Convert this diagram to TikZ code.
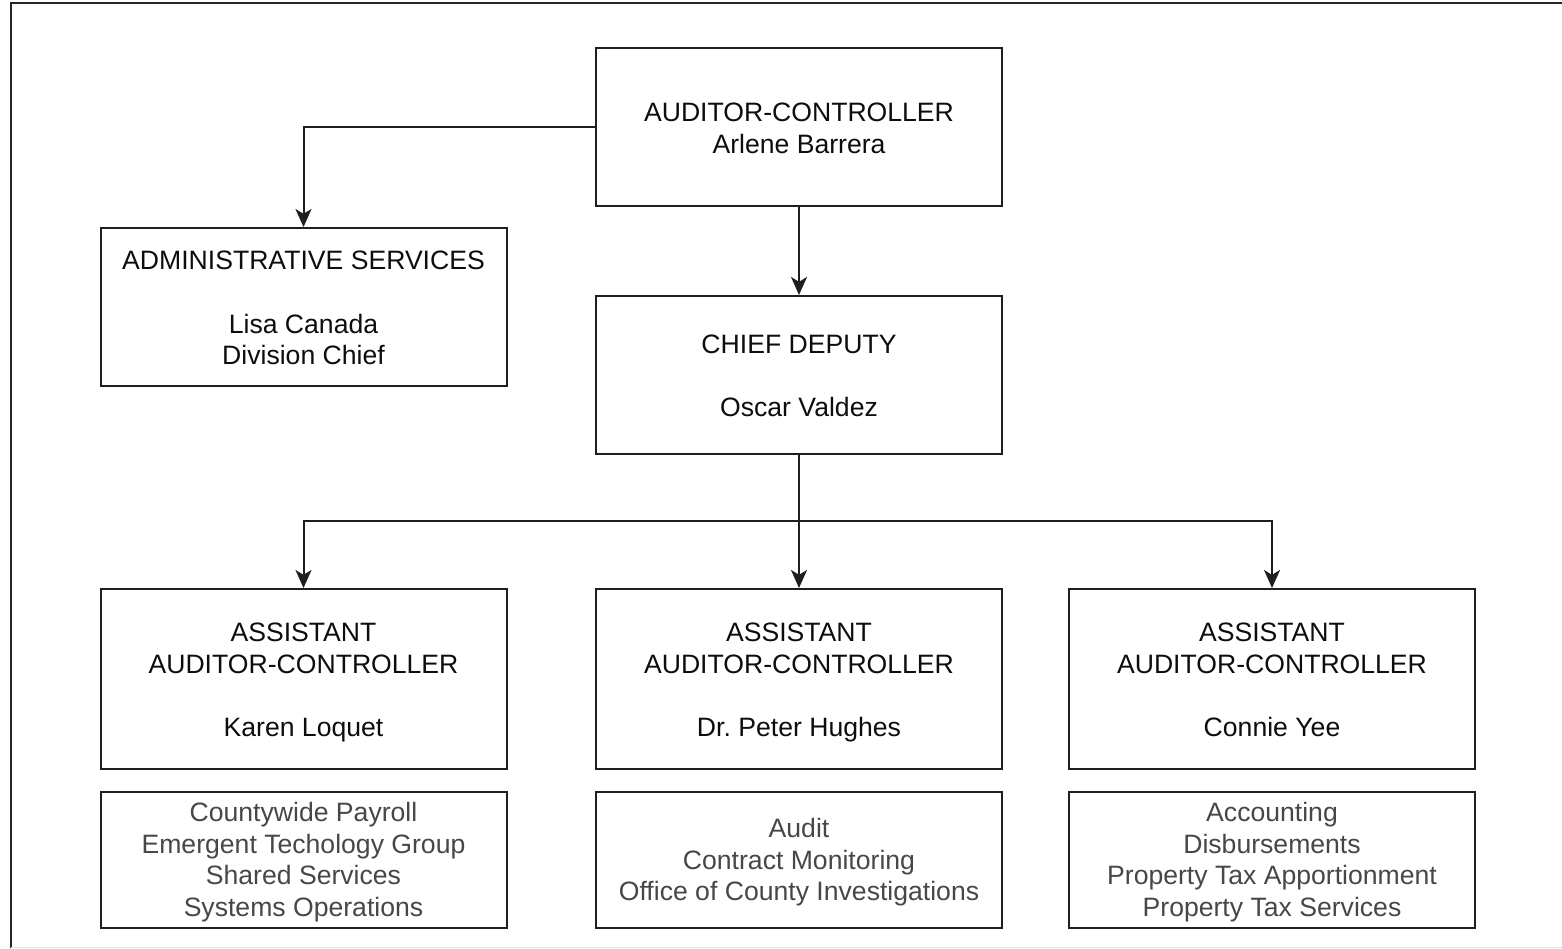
\documentclass[tikz,border=0pt]{standalone}
\usepackage{fontspec}
\setmainfont{Liberation Sans}
\usetikzlibrary{arrows.meta}
\newcommand\mybotstrut{\rule[-3pt]{0pt}{3pt}}
\begin{document}
\begin{tikzpicture}[x=0.5pt,y=-0.5pt,
  box/.style={draw=black!88, line width=1pt, minimum width=203pt, inner sep=0pt},
  tallbox/.style={box, minimum height=79pt},
  asbox/.style={box, minimum height=90pt},
  listbox/.style={box, minimum height=68pt},
  txt/.style={inner sep=0pt, align=center, font=\fontsize{13.3}{15.85}\selectfont,
    text=black!95, execute at end node=\mybotstrut, yshift=-2pt},
  listtxt/.style={txt, text=black!72, yshift=0.8pt},
  arr/.style={draw=black!88, line width=1pt, -{Stealth[length=9pt,width=8pt,inset=2.4pt]}}]
\useasboundingbox (0,0) rectangle (1562,948);
% outer frame
\draw[line width=1pt, black!85] (11,948) -- (11,3) -- (1562,3);
\draw[line width=0.5pt, black!12] (11,947) -- (1562,947);

\node[tallbox] (top) at (799,127) {};
\node[txt] (topt) at (top.center) {AUDITOR-CONTROLLER\\Arlene Barrera};
\node[tallbox] (admin) at (303.5,307) {};
\node[txt] (admint) at (admin.center) {ADMINISTRATIVE SERVICES\\[15.85pt]Lisa Canada\\Division Chief};
\node[tallbox] (chief) at (799,375) {};
\node[txt] (chieft) at (chief.center) {CHIEF DEPUTY\\[15.85pt]Oscar Valdez};

\node[asbox] (a1) at (303.5,679) {};
\node[txt] (a1t) at (a1.center) {ASSISTANT\\AUDITOR-CONTROLLER\\[15.85pt]Karen Loquet};
\node[asbox] (a2) at (799,679) {};
\node[txt] (a2t) at (a2.center) {ASSISTANT\\AUDITOR-CONTROLLER\\[15.85pt]Dr.\ Peter Hughes};
\node[asbox] (a3) at (1272,679) {};
\node[txt] (a3t) at (a3.center) {ASSISTANT\\AUDITOR-CONTROLLER\\[15.85pt]Connie Yee};

\node[listbox] (l1) at (303.5,860) {};
\node[listtxt] (l1t) at (l1.center) {Countywide Payroll\\Emergent Techology Group\\Shared Services\\Systems Operations};
\node[listbox] (l2) at (799,860) {};
\node[listtxt] (l2t) at (l2.center) {Audit\\Contract Monitoring\\Office of County Investigations};
\node[listbox] (l3) at (1272,860) {};
\node[listtxt] (l3t) at (l3.center) {Accounting\\Disbursements\\Property Tax Apportionment\\Property Tax Services};

\coordinate (j) at (799,521);
\draw[arr] (top.west) -| (admin.north);
\draw[arr] (top.south) -- (chief.north);
\draw[arr] (chief.south) -- (a2.north);
\draw[arr] (j) -| (a1.north);
\draw[arr] (j) -| (a3.north);
\end{tikzpicture}
\end{document}
